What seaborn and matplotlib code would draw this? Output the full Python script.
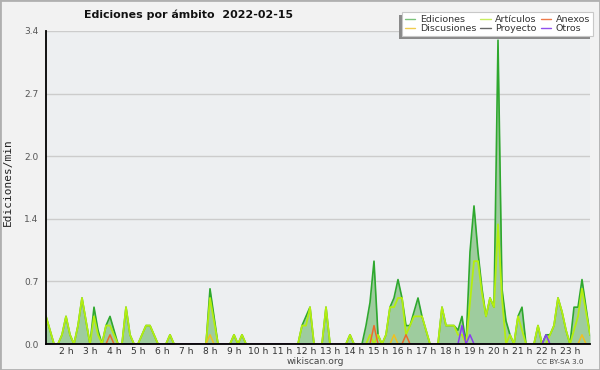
import numpy as np
import pandas as pd
import matplotlib
matplotlib.use("Agg")
import matplotlib.pyplot as plt
import seaborn as sns
from matplotlib.lines import Line2D
from matplotlib.patches import Rectangle
from matplotlib.ticker import FixedLocator, MultipleLocator

# ---------------- data ----------------
title = "Ediciones por ámbito  2022-02-15"
ylabel = "Ediciones/min"
hour_ticks = list(range(2, 24))
hour_labels = [f"{h} h" for h in hour_ticks]
ytick_values = [0.0, 0.68, 1.36, 2.04, 2.72, 3.4]
ytick_labels = ["0.0", "0.7", "1.4", "2.0", "2.7", "3.4"]

start_hour = 1 + 10 / 60      # first sample 01:10
step_hours = 10 / 60          # one sample every 10 minutes

ediciones = [
    0.3, 0.15, 0, 0, 0.1, 0.3, 0.1, 0, 0.2, 0.5,
    0.25, 0, 0.4, 0.15, 0, 0.2, 0.3, 0.15, 0, 0,
    0.4, 0.1, 0, 0, 0.1, 0.2, 0.2, 0.1, 0, 0,
    0, 0.1, 0, 0, 0, 0, 0, 0, 0, 0,
    0, 0.6, 0.3, 0, 0, 0, 0, 0.1, 0, 0.1,
    0, 0, 0, 0, 0, 0, 0, 0, 0, 0,
    0, 0, 0, 0, 0.2, 0.3, 0.4, 0, 0, 0,
    0.4, 0, 0, 0, 0, 0, 0.1, 0, 0, 0,
    0.2, 0.45, 0.9, 0.1, 0, 0.1, 0.4, 0.5, 0.7, 0.5,
    0.2, 0.2, 0.35, 0.5, 0.3, 0.15, 0, 0, 0, 0.4,
    0.2, 0.2, 0.2, 0.15, 0.3, 0, 1.0, 1.5, 1.0, 0.6,
    0.3, 0.5, 0.4, 3.3, 0.6, 0.25, 0.1, 0, 0.3, 0.4,
    0, 0, 0, 0.2, 0, 0.1, 0.1, 0.2, 0.5, 0.35,
    0.15, 0, 0.4, 0.4, 0.7, 0.4, 0.1,
]
articulos = [
    0.3, 0.15, 0, 0, 0.1, 0.3, 0.1, 0, 0.2, 0.5,
    0.25, 0, 0.3, 0.1, 0, 0.2, 0.2, 0.1, 0, 0,
    0.4, 0.1, 0, 0, 0.1, 0.2, 0.2, 0.1, 0, 0,
    0, 0.1, 0, 0, 0, 0, 0, 0, 0, 0,
    0, 0.5, 0.25, 0, 0, 0, 0, 0.1, 0, 0.1,
    0, 0, 0, 0, 0, 0, 0, 0, 0, 0,
    0, 0, 0, 0, 0.2, 0.2, 0.4, 0, 0, 0,
    0.4, 0, 0, 0, 0, 0, 0.1, 0, 0, 0,
    0, 0.1, 0, 0.1, 0, 0.1, 0.4, 0.4, 0.5, 0.5,
    0.1, 0.2, 0.3, 0.3, 0.3, 0.15, 0, 0, 0, 0.4,
    0.2, 0.2, 0.2, 0.1, 0.1, 0, 0.45, 0.9, 0.9, 0.55,
    0.3, 0.5, 0.4, 1.3, 0.5, 0, 0.1, 0, 0.3, 0.15,
    0, 0, 0, 0.2, 0, 0, 0.1, 0.2, 0.5, 0.35,
    0.15, 0, 0.15, 0.3, 0.6, 0.35, 0.1,
]
# sparse series: sample index -> value
discusiones_idx = [41, 87, 134]
discusiones_val = [0.1, 0.1, 0.1]
anexos_idx = [16, 82, 90]
anexos_val = [0.1, 0.2, 0.1]
otros_idx = [104, 106, 125]
otros_val = [0.2, 0.1, 0.1]
proyecto_idx = []
proyecto_val = []

# ---------------- build table ----------------
n = len(ediciones)
hours = start_hour + step_hours * np.arange(n)


def dense(idx, val):
    arr = np.zeros(n)
    arr[list(idx)] = val
    return arr


df = pd.DataFrame({
    "hora": hours,
    "Ediciones": ediciones,
    "Artículos": articulos,
    "Anexos": dense(anexos_idx, anexos_val),
    "Discusiones": dense(discusiones_idx, discusiones_val),
    "Proyecto": dense(proyecto_idx, proyecto_val),
    "Otros": dense(otros_idx, otros_val),
})

# ---------------- style ----------------
sns.set_style("white")
plt.rcParams["font.family"] = ["DejaVu Sans"]

W, H = 600, 370
fig = plt.figure(figsize=(6, 3.7), dpi=100)
fig.patch.set_facecolor("#f2f2f2")


def fx(px):
    return px / W


def fy(py):
    return 1 - py / H


ax = fig.add_axes([fx(46), fy(344), fx(590) - fx(46), fy(31) - fy(344)])
ax.set_facecolor("#edeff1")

line_colors = {
    "Ediciones": "#2ea82e",
    "Artículos": "#b4ee10",
    "Anexos": "#ee6a2a",
    "Discusiones": "#f0c020",
    "Proyecto": "#555555",
    "Otros": "#8a3cf0",
}

ax.fill_between(df["hora"], 0, df["Ediciones"], color="#9ecc9e", lw=0, zorder=1.5)
sns.lineplot(data=df, x="hora", y="Ediciones", ax=ax, color=line_colors["Ediciones"],
             linewidth=1.2, zorder=2.0, legend=False)
sns.lineplot(data=df, x="hora", y="Artículos", ax=ax, color=line_colors["Artículos"],
             linewidth=1.3, zorder=2.1, legend=False)
for i, name in enumerate(["Proyecto", "Discusiones", "Anexos", "Otros"]):
    sns.lineplot(data=df, x="hora", y=name, ax=ax, color=line_colors[name],
                 linewidth=1.1, zorder=2.2 + i * 0.1, legend=False)

ax.set_xlim(hours[0], hours[-1])
ax.set_ylim(0, 3.4)
ax.set_xlabel("")
ax.set_ylabel("")

ax.xaxis.set_major_locator(FixedLocator(hour_ticks))
ax.set_xticklabels(hour_labels)
ax.xaxis.set_minor_locator(MultipleLocator(step_hours))
ax.yaxis.set_major_locator(FixedLocator(ytick_values))
ax.set_yticklabels(ytick_labels)
ax.yaxis.set_minor_locator(MultipleLocator(0.136))

ax.tick_params(axis="both", which="both", direction="out", color="black", width=1)
ax.tick_params(axis="x", which="both", length=3.5, pad=-1.5, labelsize=6.6, labelcolor="#333333")
ax.tick_params(axis="y", which="major", length=4, pad=1.5, labelsize=6.5, labelcolor="#555555")
ax.tick_params(axis="y", which="minor", length=2.5)

ax.set_axisbelow(True)
ax.yaxis.grid(True, which="major", color="#cccccc", linewidth=1)
ax.xaxis.grid(False)

for side in ["top", "right"]:
    ax.spines[side].set_visible(False)
for side in ["left", "bottom"]:
    ax.spines[side].set_color("black")
    ax.spines[side].set_linewidth(1.3)
    ax.spines[side].set_zorder(10)

# ---------------- texts ----------------
fig.text(fx(188), fy(15), title, ha="center", va="center",
         fontsize=7.9, fontweight="bold", color="#111111")
fig.text(fx(8), fy(182), ylabel, ha="center", va="center", rotation=90,
         fontsize=8, family=["DejaVu Sans Mono"], color="#222222")
fig.text(fx(315), fy(362), "wikiscan.org", ha="center", va="center",
         fontsize=6.6, color="#444444")
fig.text(fx(560), fy(362), "CC BY-SA 3.0", ha="center", va="center",
         fontsize=5.2, color="#444444")

# ---------------- legend ----------------
legend_colors = {
    "Ediciones": "#7cc47c",
    "Artículos": "#c8ee60",
    "Anexos": "#ee7a4a",
    "Discusiones": "#f0cc50",
    "Proyecto": "#666666",
    "Otros": "#9050ee",
}
order = ["Ediciones", "Discusiones", "Artículos", "Proyecto", "Anexos", "Otros"]
handles = [Line2D([], [], color=legend_colors[k], lw=1.0) for k in order]
leg = ax.legend(handles, order, ncol=3, loc="upper right",
                bbox_to_anchor=(fx(593), fy(12)), bbox_transform=fig.transFigure,
                fontsize=6.8, frameon=True, fancybox=False, edgecolor="#c8c8c8",
                facecolor="white", framealpha=1, handlelength=1.1,
                handletextpad=0.5, columnspacing=0.4, borderpad=0.3,
                labelspacing=0.05, borderaxespad=0)
leg.get_frame().set_linewidth(0.8)
leg.set_zorder(20)
for txt in leg.get_texts():
    txt.set_color("#333333")

fig.canvas.draw()
bb = leg.get_window_extent()
shadow = Rectangle(((bb.x0 - 3) / W, (bb.y0 - 3) / H), bb.width / W, bb.height / H,
                   transform=fig.transFigure, facecolor="#8a8a8a", edgecolor="none",
                   zorder=19, clip_on=False)
ax.add_patch(shadow)

# outer border
fig.add_artist(Rectangle((0, 0), 1, 1, transform=fig.transFigure, fill=False,
                         edgecolor="#b0b0b0", linewidth=2, zorder=30))

fig.savefig("out.png", dpi=100, facecolor=fig.get_facecolor())
